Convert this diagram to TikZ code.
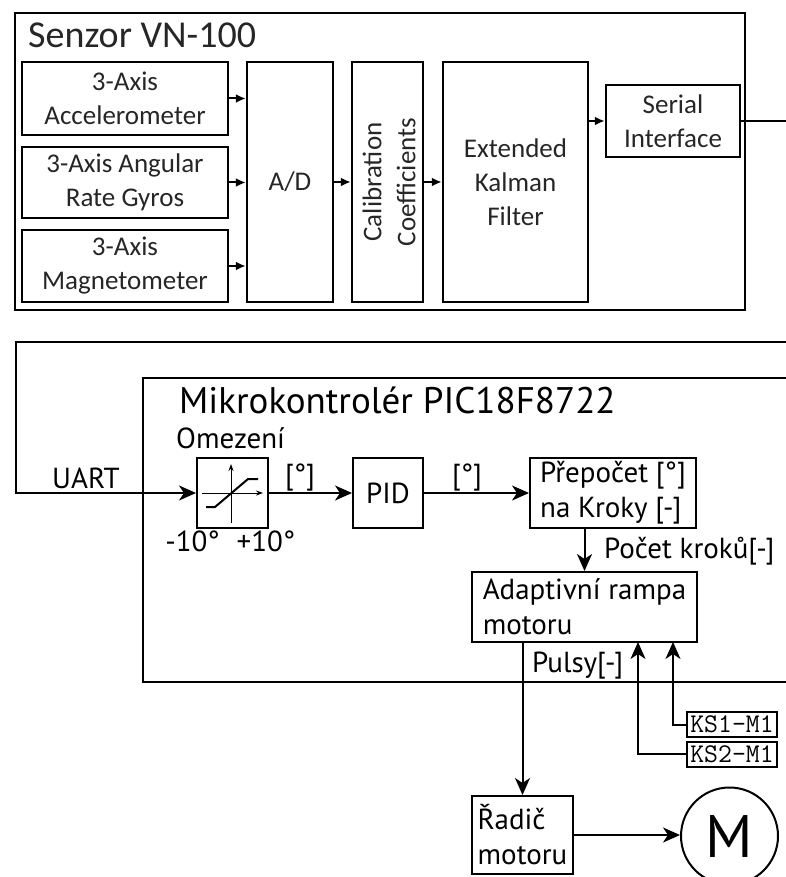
\documentclass[tikz,border=0pt]{standalone}
\usepackage{fontspec}
\setmainfont{PT Sans}
\newfontfamily\senzorfont{Carlito}
\usetikzlibrary{arrows.meta,calc}

\tikzset{
  sbox/.style={draw, line width=2.5pt, inner sep=0pt, align=center, text=black!85,
    font=\senzorfont\fontsize{27}{34}\selectfont},
  sarrow/.style={line width=2pt, -{Latex[length=10pt,width=9pt]}},
  mbox/.style={draw, line width=2pt, inner sep=0pt, align=left,
    font=\fontsize{29}{35}\selectfont},
  marrow/.style={line width=2pt, -{Stealth[length=17pt,width=15pt,inset=5pt]}},
  lbl/.style={inner sep=0pt, font=\fontsize{29}{34}\selectfont},
  ksbox/.style={draw, line width=2pt, inner sep=0pt, minimum width=90pt, minimum height=25pt,
    font=\ttfamily\fontsize{27}{27}\selectfont},
}

\begin{document}
\begin{tikzpicture}[x=1pt, y=-1pt]
    \useasboundingbox (0,0) rectangle (786,877);

    % Senzor VN-100
    \node[sbox, minimum width=730pt, minimum height=297pt] (senzor) at (380,161.5) {};
    \node[anchor=base west, inner sep=0pt, text=black!85, font=\senzorfont\fontsize{38}{42}\selectfont] (senzortitle) at (28,48) {Senzor VN-100};
    \node[sbox, minimum width=206pt, minimum height=73pt] (acc) at (125,98.5) {3-Axis\\Accelerometer};
    \node[sbox, minimum width=206pt, minimum height=71pt] (gyro) at (125,182.5) {3-Axis Angular\\Rate Gyros};
    \node[sbox, minimum width=206pt, minimum height=72pt] (mag) at (125,266) {3-Axis\\Magnetometer};
    \node[sbox, minimum width=86pt, minimum height=240pt] (ad) at (290,182) {A/D};
    \node[sbox, minimum width=71pt, minimum height=240pt] (cal) at (387.5,182) {};
    \node[inner sep=0pt, rotate=90, align=center, text=black!85, font=\senzorfont\fontsize{27}{34}\selectfont] (caltext) at (389,182) {Calibration\\Coefficients};
    \node[sbox, minimum width=145pt, minimum height=240pt] (ekf) at (515.5,182) {Extended\\Kalman\\Filter};
    \node[sbox, minimum width=134pt, minimum height=72pt] (ser) at (673,121) {Serial\\Interface};

    \draw[sarrow] (acc.east) -- (acc.east -| ad.west);
    \draw[sarrow] (gyro.east) -- (gyro.east -| ad.west);
    \draw[sarrow] (mag.east) -- (mag.east -| ad.west);
    \draw[sarrow] (ad.east) -- (cal.west);
    \draw[sarrow] (cal.east) -- (ekf.west);
    \draw[sarrow] (ser.west -| ekf.east) -- (ser.west);

    % UART wire
    \coordinate (edgeA) at (786,121);
    \coordinate (edgeB) at (786,342);
    \coordinate (uartcorner) at (16,342);
    \draw[line width=2pt] (ser.east) -- (edgeA);

    % Mikrokontroler PIC18F8722
    \draw[line width=2pt] (786,378) -- (143,378) -- (143,682) -- (786,682);
    \node[anchor=base west, inner sep=0pt, font=\fontsize{37}{42}\selectfont] (mcutitle) at (179,413) {Mikrokontrolér PIC18F8722};
    \node[anchor=base west, lbl] (omez) at (176,448) {Omezení};

    \node[mbox, minimum width=71pt, minimum height=70pt] (sat) at (232.5,493) {};
    \draw[line width=1pt, -{Stealth[length=7pt,width=5pt]}] ($(sat)+(-1.5,30)$) -- ($(sat)+(-1.5,-29)$);
    \draw[line width=1pt, -{Stealth[length=7pt,width=5pt]}] ($(sat)+(-30.5,0)$) -- ($(sat)+(30.5,0)$);
    \draw[line width=2pt] ($(sat)+(-26.5,14)$) -- ($(sat)+(-17.5,14)$) -- ($(sat)+(15.5,-14)$) -- ($(sat)+(25.5,-14)$);
    \node[lbl] (minus) at (192.5,541) {-10°};
    \node[lbl] (plus) at (266,541) {+10°};

    \node[mbox, align=center, minimum width=70pt, minimum height=70pt] (pid) at (388,493) {PID};
    \node[mbox, minimum width=166pt, minimum height=70pt] (prep) at (613,493) {Přepočet [°]\\na Kroky [-]};
    \node[mbox, minimum width=225pt, minimum height=70pt] (ramp) at (584.5,607) {Adaptivní rampa\\motoru};
    \node[mbox, minimum width=101pt, minimum height=78pt] (radic) at (522.5,835) {Řadič\\motoru};
    \node[draw, circle, line width=2pt, minimum size=97pt, inner sep=0pt, font=\fontsize{60}{60}\selectfont] (motor) at (729.5,836) {M};
    \node[ksbox] (ks1) at (732,724.5) {KS1-M1};
    \node[ksbox] (ks2) at (732,754) {KS2-M1};

    % Signals
    \draw[marrow] (edgeB) -- (uartcorner) |- (sat.west);
    \node[anchor=base west, lbl] (uart) at (52,488) {UART};
    \draw[marrow] (sat.east) -- (pid.west);
    \node[lbl] (deg1) at (300,478) {[°]};
    \draw[marrow] (pid.east) -- (prep.west);
    \node[lbl] (deg2) at (467,478) {[°]};
    \draw[marrow] (prep.south -| ramp.north) -- (ramp.north);
    \node[anchor=base west, lbl] (kroky) at (604,558) {Počet kroků[-]};
    \draw[marrow] (radic.north |- ramp.south) -- (radic.north);
    \node[anchor=base west, lbl] (pulsy) at (532,672) {Pulsy[-]};
    \coordinate (in1) at (673,642);
    \coordinate (in2) at (638,642);
    \draw[marrow] (ks1.west) -| (in1);
    \draw[marrow] (ks2.west) -| (in2);
    \draw[marrow] (radic.east -| radic.east) -- (radic.east -| motor.west);
\end{tikzpicture}
\end{document}
